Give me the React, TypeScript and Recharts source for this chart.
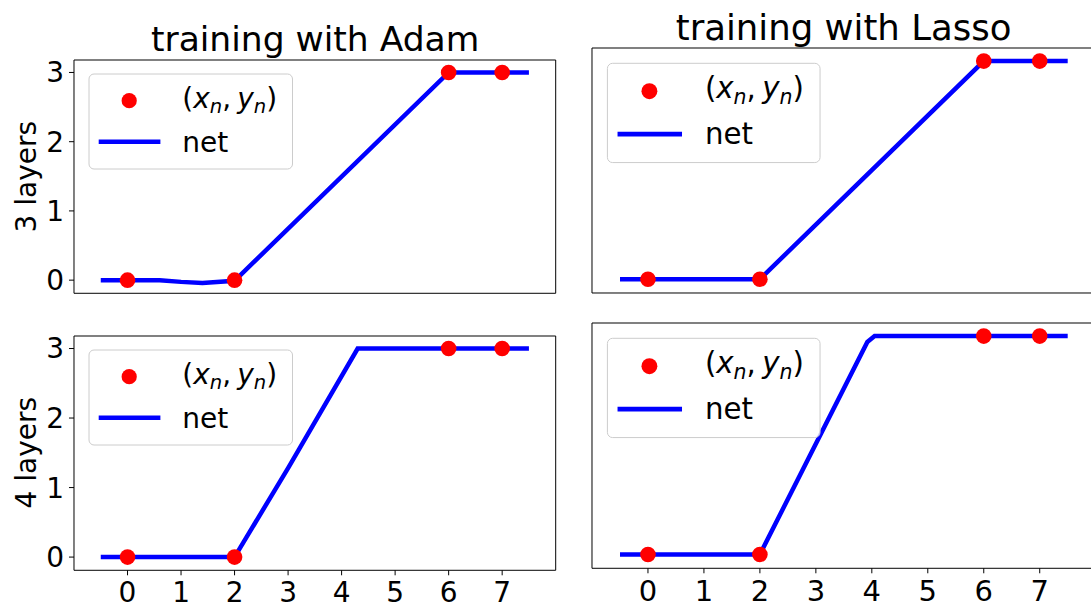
import React from 'react';
import { ComposedChart, Line, Scatter, XAxis, YAxis, ReferenceArea } from 'recharts';

// ---- data ----
const xTicks = [0, 1, 2, 3, 4, 5, 6, 7];
const yTicks = [0, 1, 2, 3];
const xDomain: [number, number] = [-1, 8];
const yDomain: [number, number] = [-0.19, 3.18];

const sampleX = [0, 2, 6, 7];
const sampleY = [0, 0, 3, 3];

const adam3X = [-0.5, 0, 0.6, 1.0, 1.4, 2.0, 6.0, 7.5];
const adam3Y = [0, 0, 0, -0.025, -0.04, -0.01, 3, 3];

const adam4X = [-0.5, 2, 3.0, 4.3, 7.5];
const adam4Y = [0, 0, 1.28, 3, 3];

const lasso3X = [-0.5, 2, 6, 7.5];
const lasso3Y = [0, 0, 3, 3];

const lasso4X = [-0.5, 2, 3.92, 4.05, 7.5];
const lasso4Y = [0, 0, 2.92, 3, 3];

const columnTitles = ['training with Adam', 'training with Lasso'];
const rowLabels = ['3 layers', '4 layers'];
const netLabel = 'net';

const zip = (xs: number[], ys: number[]) => xs.map((x, i) => ({ x, y: ys[i] }));
const samples = zip(sampleX, sampleY);

const FONT = '"DejaVu Sans", sans-serif';

type PanelDef = {
  row: number;
  col: number;
  left: number;
  top: number;
  right: number;
  bottom: number;
  net: { x: number; y: number }[];
  legend: { x: number; y: number };
};

const panels: PanelDef[] = [
  { row: 0, col: 0, left: 74.3, top: 60, right: 556, bottom: 293.3, net: zip(adam3X, adam3Y), legend: { x: 89, y: 74 } },
  { row: 0, col: 1, left: 591.7, top: 48.3, right: 1095.4, bottom: 293.3, net: zip(lasso3X, lasso3Y), legend: { x: 607.4, y: 63.3 } },
  { row: 1, col: 0, left: 74.3, top: 335.5, right: 556, bottom: 569.8, net: zip(adam4X, adam4Y), legend: { x: 89, y: 350 } },
  { row: 1, col: 1, left: 591.7, top: 322.7, right: 1095.4, bottom: 568, net: zip(lasso4X, lasso4Y), legend: { x: 607.4, y: 338.3 } },
];

const colScale = [1, 1.045];

const Dot = (props: any) => {
  const { cx, cy } = props;
  if (cx == null || cy == null) return null;
  return <circle cx={cx} cy={cy} r={7.8} fill="#ff0000" />;
};

function Panel({ p }: { p: PanelDef }) {
  const showY = p.col === 0;
  const showX = p.row === 1;
  const yW = showY ? 74 : 10;
  const xH = showX ? 40 : 10;
  const pad = 10;
  const w = p.right - p.left;
  const h = p.bottom - p.top;
  const fs = p.col === 0 ? 28 : 29;
  return (
    <div style={{ position: 'absolute', left: p.left - yW, top: p.top - pad }}>
      <ComposedChart
        width={w + yW + pad}
        height={h + pad + xH}
        margin={{ top: pad, right: pad, bottom: 0, left: 0 }}
        style={{ fontFamily: FONT }}
      >
        <XAxis
          type="number"
          dataKey="x"
          domain={xDomain}
          ticks={xTicks}
          allowDataOverflow
          interval={0}
          height={xH}
          axisLine={false}
          tickLine={showX ? { stroke: '#000', strokeWidth: 1 } : false}
          tick={showX ? { fill: '#000', fontSize: fs, fontFamily: FONT } : false}
          stroke="#000"
          tickSize={5}
          tickMargin={7}
        />
        <YAxis
          type="number"
          dataKey="y"
          domain={yDomain}
          ticks={yTicks}
          allowDataOverflow
          interval={0}
          width={yW}
          axisLine={false}
          tickLine={showY ? { stroke: '#000', strokeWidth: 1 } : false}
          tick={showY ? { fill: '#000', fontSize: fs, fontFamily: FONT } : false}
          stroke="#000"
          tickSize={5}
          tickMargin={5}
        />
        <Scatter data={samples} dataKey="y" shape={Dot} isAnimationActive={false} />
        <Line
          data={p.net}
          dataKey="y"
          type="linear"
          stroke="#0000ff"
          strokeWidth={4.5}
          dot={false}
          activeDot={false}
          isAnimationActive={false}
        />
        <ReferenceArea
          x1={xDomain[0]}
          x2={xDomain[1]}
          y1={yDomain[0]}
          y2={yDomain[1]}
          fill="none"
          fillOpacity={0}
          stroke="#000"
          strokeWidth={1}
          ifOverflow="visible"
        />
      </ComposedChart>
    </div>
  );
}

function LegendBox({ x, y, s }: { x: number; y: number; s: number }) {
  return (
    <g transform={`translate(${x},${y}) scale(${s})`}>
      <rect x={0} y={0} width={203.5} height={95} rx={5} fill="#ffffff" fillOpacity={0.8} stroke="#cccccc" strokeWidth={1 / s} />
      <circle cx={40.2} cy={26.7} r={7.6} fill="#ff0000" />
      <text x={93.3} y={33.5} fontSize={28} fontFamily={FONT} fill="#000">
        <tspan>(</tspan>
        <tspan fontStyle="italic">x</tspan>
        <tspan fontStyle="italic" fontSize={19.6} dy={5}>n</tspan>
        <tspan dy={-5}>,</tspan>
        <tspan dx={6} fontStyle="italic">y</tspan>
        <tspan fontStyle="italic" fontSize={19.6} dy={5}>n</tspan>
        <tspan dy={-5}>)</tspan>
      </text>
      <line x1={9.7} x2={71.4} y1={67.7} y2={67.7} stroke="#0000ff" strokeWidth={4.5} />
      <text x={93.3} y={77.7} fontSize={28} fontFamily={FONT} fill="#000">{netLabel}</text>
    </g>
  );
}

export default function App() {
  const titleX = [(74.3 + 556) / 2, (591.7 + 1095.4) / 2];
  const titleY = [51, 40];
  const titleFs = [34.5, 35.5];
  const rowCenter = [(60 + 293.3) / 2, (335.5 + 569.8) / 2];
  return (
    <div
      style={{
        position: 'absolute',
        left: 0,
        top: 0,
        width: 1091,
        height: 608,
        overflow: 'hidden',
        background: '#ffffff',
        fontFamily: FONT,
      }}
    >
      {panels.map((p, i) => (
        <Panel key={i} p={p} />
      ))}
      <svg
        width={1091}
        height={608}
        style={{ position: 'absolute', left: 0, top: 0, pointerEvents: 'none' }}
      >
        {columnTitles.map((t, i) => (
          <text key={t} x={titleX[i]} y={titleY[i]} textAnchor="middle" fontSize={titleFs[i]} fontFamily={FONT} fill="#000">
            {t}
          </text>
        ))}
        {rowLabels.map((t, i) => (
          <text
            key={t}
            transform={`translate(36,${rowCenter[i]}) rotate(-90)`}
            textAnchor="middle"
            fontSize={28}
            fontFamily={FONT}
            fill="#000"
          >
            {t}
          </text>
        ))}
        {panels.map((p, i) => (
          <LegendBox key={i} x={p.legend.x} y={p.legend.y} s={colScale[p.col]} />
        ))}
      </svg>
    </div>
  );
}
